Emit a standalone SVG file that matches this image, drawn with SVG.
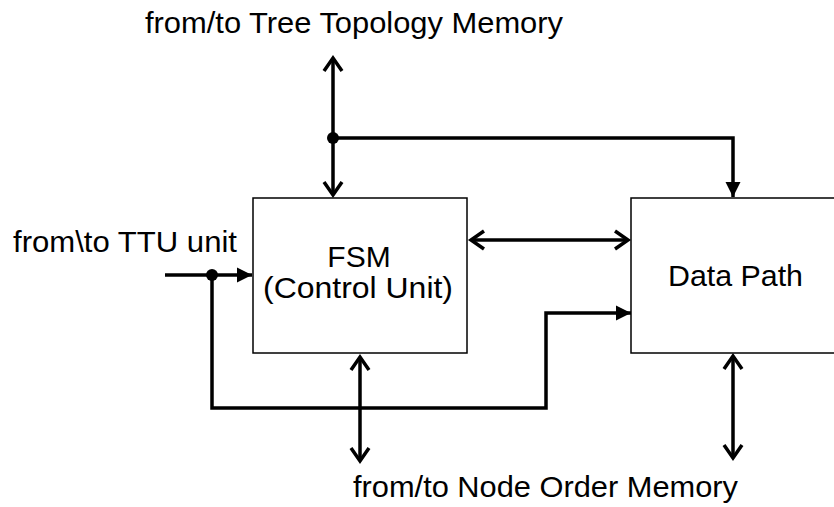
<svg xmlns="http://www.w3.org/2000/svg" width="834" height="507" viewBox="0 0 834 507">
<style>
.box{fill:#fff;stroke:#000;stroke-width:1.5}
.wire{fill:none;stroke:#000;stroke-width:3.5}
.txt{font-family:"Liberation Sans",Arial,sans-serif;font-size:30px;fill:#000}
</style>
<defs>
<marker id="open" markerUnits="userSpaceOnUse" markerWidth="30" markerHeight="30" viewBox="-18 -15 30 30" refX="0" refY="0" orient="auto-start-reverse">
<path d="M-13 -9 L0 0 L-13 9" fill="none" stroke="#000" stroke-width="3.5"/>
</marker>
<marker id="solid" markerUnits="userSpaceOnUse" markerWidth="30" markerHeight="30" viewBox="-18 -15 30 30" refX="0" refY="0" orient="auto">
<path d="M-15 -7.5 L0 0 L-15 7.5 z" fill="#000"/>
</marker>
</defs>
<g id="fsm">
<rect class="box" x="253" y="198" width="214" height="155"/>
<text class="txt" x="359" y="267" text-anchor="middle">FSM</text>
<text class="txt" x="358" y="298" text-anchor="middle" textLength="190" lengthAdjust="spacingAndGlyphs">(Control Unit)</text>
</g>
<g id="datapath">
<rect class="box" x="631" y="198" width="215" height="155"/>
<text class="txt" x="735.5" y="286" text-anchor="middle" textLength="135" lengthAdjust="spacingAndGlyphs">Data Path</text>
</g>
<g id="labels">
<text class="txt" x="354" y="33" text-anchor="middle" textLength="418" lengthAdjust="spacingAndGlyphs">from/to Tree Topology Memory</text>
<text class="txt" x="13" y="252" textLength="224" lengthAdjust="spacingAndGlyphs">from\to TTU unit</text>
<text class="txt" x="545.5" y="497" text-anchor="middle" textLength="385" lengthAdjust="spacingAndGlyphs">from/to Node Order Memory</text>
</g>
<g id="connectors">
<path class="wire" d="M333 58 V195" marker-start="url(#open)" marker-end="url(#open)"/>
<path class="wire" d="M333 138 H733 V197" marker-end="url(#solid)"/>
<circle cx="333" cy="138" r="6" fill="#000"/>
<path class="wire" d="M471 240 H628" marker-start="url(#open)" marker-end="url(#open)"/>
<path class="wire" d="M165 275 H252" marker-end="url(#solid)"/>
<circle cx="212" cy="275" r="6" fill="#000"/>
<path class="wire" d="M212 275 V408 H546 V313 H631" marker-end="url(#solid)"/>
<path class="wire" d="M360 357 V461" marker-start="url(#open)" marker-end="url(#open)"/>
<path class="wire" d="M733 356 V458" marker-start="url(#open)" marker-end="url(#open)"/>
</g>
</svg>
